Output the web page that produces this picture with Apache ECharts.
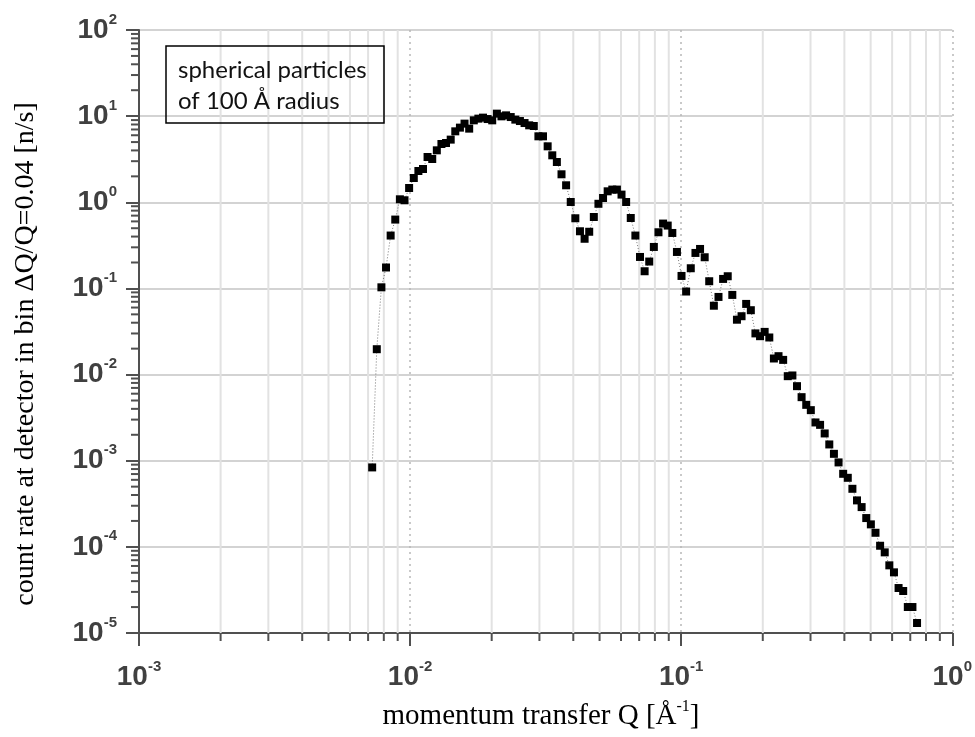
<!DOCTYPE html>
<html><head><meta charset="utf-8">
<script src="https://cdn.jsdelivr.net/npm/echarts@6.0.0/dist/echarts.min.js"></script>
<style>html,body{margin:0;padding:0;background:#fff}#c{width:975px;height:737px}</style>
</head><body><div id="c"></div>
<script>
// momentum transfer Q [1/Å]
const qValues = [
 0.007247, 0.007537, 0.007838, 0.008152, 0.008478, 0.008817, 0.009170, 0.009537, 0.009918, 0.01032,
 0.01073, 0.01116, 0.01160, 0.01207, 0.01255, 0.01305, 0.01357, 0.01412, 0.01468, 0.01527,
 0.01588, 0.01652, 0.01718, 0.01786, 0.01858, 0.01932, 0.02009, 0.02090, 0.02173, 0.02260,
 0.02351, 0.02445, 0.02542, 0.02644, 0.02750, 0.02860, 0.02974, 0.03093, 0.03217, 0.03346,
 0.03479, 0.03619, 0.03763, 0.03914, 0.04070, 0.04233, 0.04403, 0.04579, 0.04762, 0.04952,
 0.05150, 0.05356, 0.05571, 0.05794, 0.06025, 0.06266, 0.06517, 0.06778, 0.07049, 0.07331,
 0.07624, 0.07929, 0.08246, 0.08576, 0.08919, 0.09276, 0.09647, 0.1003, 0.1043, 0.1085,
 0.1129, 0.1174, 0.1221, 0.1269, 0.1320, 0.1373, 0.1428, 0.1485, 0.1544, 0.1606,
 0.1670, 0.1737, 0.1807, 0.1879, 0.1954, 0.2032, 0.2114, 0.2198, 0.2286, 0.2378,
 0.2473, 0.2572, 0.2675, 0.2781, 0.2893, 0.3008, 0.3129, 0.3254, 0.3384, 0.3519,
 0.3660, 0.3807, 0.3959, 0.4117, 0.4282, 0.4453, 0.4631, 0.4817, 0.5009, 0.5210,
 0.5418, 0.5635, 0.5860, 0.6095, 0.6338, 0.6592, 0.6856, 0.7130, 0.7415
];
// count rate [n/s]
const countRates = [
 0.000836, 0.0197, 0.103, 0.175, 0.411, 0.630, 1.083, 1.055, 1.465, 1.913,
 2.307, 2.434, 3.354, 3.179, 4.011, 4.747, 4.875, 5.338, 6.664, 7.356,
 8.185, 7.161, 8.939, 9.354, 9.608, 9.255, 8.939, 10.69, 9.947, 10.21,
 9.763, 9.108, 8.775, 8.318, 7.823, 7.679, 5.832, 5.832, 4.463, 3.510,
 2.935, 2.113, 1.575, 1.008, 0.6523, 0.4609, 0.3772, 0.4548, 0.6752, 0.9607,
 1.122, 1.341, 1.404, 1.404, 1.228, 1.008, 0.6575, 0.4109, 0.2319, 0.1583,
 0.2051, 0.3030, 0.4487, 0.5661, 0.5366, 0.4404, 0.2651, 0.1396, 0.09205, 0.1715,
 0.2582, 0.2872, 0.2301, 0.1212, 0.06299, 0.07966, 0.1289, 0.1385, 0.08407, 0.04334,
 0.04758, 0.06610, 0.05587, 0.03006, 0.02790, 0.03129, 0.02695, 0.01537, 0.01635, 0.01481,
 0.009581, 0.009763, 0.007335, 0.005467, 0.004452, 0.003864, 0.002781, 0.002608, 0.002073, 0.001545,
 0.001202, 0.0009556, 0.0007047, 0.0006332, 0.0004721, 0.0003462, 0.0002895, 0.0002159, 0.0001824, 0.0001457,
 0.0001030, 0.00008632, 0.00006101, 0.00005060, 0.00003327, 0.00003071, 0.00002002, 0.00002002, 0.00001306
];
const xMajorTicks = [0.001, 0.01, 0.1, 1];
const xTickExponents = ['-3', '-2', '-1', '0'];
const yMajorTicks = [1e-5, 1e-4, 1e-3, 1e-2, 1e-1, 1, 10, 100];
const yTickExponents = ['-5', '-4', '-3', '-2', '-1', '0', '1', '2'];
const xMinorTicks = [
 0.002, 0.003, 0.004, 0.005, 0.006, 0.007, 0.008, 0.009,
 0.02, 0.03, 0.04, 0.05, 0.06, 0.07, 0.08, 0.09,
 0.2, 0.3, 0.4, 0.5, 0.6, 0.7, 0.8, 0.9
];
const yMinorTicks = [
 2e-5, 3e-5, 4e-5, 5e-5, 6e-5, 7e-5, 8e-5, 9e-5,
 2e-4, 3e-4, 4e-4, 5e-4, 6e-4, 7e-4, 8e-4, 9e-4,
 0.002, 0.003, 0.004, 0.005, 0.006, 0.007, 0.008, 0.009,
 0.02, 0.03, 0.04, 0.05, 0.06, 0.07, 0.08, 0.09,
 0.2, 0.3, 0.4, 0.5, 0.6, 0.7, 0.8, 0.9,
 2, 3, 4, 5, 6, 7, 8, 9,
 20, 30, 40, 50, 60, 70, 80, 90
];
const legendText = ['spherical particles', 'of 100 Å radius'];
const xTitle = ['momentum transfer Q [Å', '-1', ']'];
const yTitle = 'count rate at detector in bin ΔQ/Q=0.04 [n/s]';

function expFor(ticks, exps, v) {
  let best = 0, bd = Infinity;
  ticks.forEach((t, i) => { const d = Math.abs(Math.log10(v) - Math.log10(t)); if (d < bd) { bd = d; best = i; } });
  return exps[best];
}
const axisColor = '#505050';
const labelRich = {
  b: { fontFamily: 'Liberation Sans', fontWeight: 'bold', fontSize: 28, color: '#404040', lineHeight: 36 },
  s: { fontFamily: 'Liberation Sans', fontWeight: 'bold', fontSize: 15, color: '#404040', lineHeight: 16, verticalAlign: 'top' }
};

const chart = echarts.init(document.getElementById('c'), null, { renderer: 'canvas' });
chart.setOption({
  animation: false,
  backgroundColor: '#fff',
  grid: { left: 139, right: 21, top: 30, bottom: 104, containLabel: false },
  xAxis: {
    type: 'log', logBase: 10, min: 0.001, max: 1, splitNumber: 3,
    axisLine: { show: true, onZero: false, lineStyle: { color: axisColor, width: 2 } },
    axisTick: { show: true, inside: false, length: 13, lineStyle: { color: axisColor, width: 2 } },
    axisLabel: {
      margin: 26, rich: labelRich,
      formatter: v => '{b|10}{s|' + expFor(xMajorTicks, xTickExponents, v) + '}'
    },
    splitLine: { show: true, lineStyle: { color: '#b8b8b8', width: 1.5, type: [2, 4] } },
    minorTick: { show: false }
  },
  yAxis: {
    type: 'log', logBase: 10, min: 1e-5, max: 100, splitNumber: 7,
    axisLine: { show: true, onZero: false, lineStyle: { color: axisColor, width: 2 } },
    axisTick: { show: true, inside: false, length: 13, lineStyle: { color: axisColor, width: 2 } },
    axisLabel: {
      margin: 22, rich: labelRich,
      formatter: v => '{b|10}{s|' + expFor(yMajorTicks, yTickExponents, v) + '}'
    },
    splitLine: { show: true, lineStyle: { color: '#c4c4c4', width: 1.5 } },
    minorTick: { show: false }
  },
  graphic: [
    { type: 'rect', z: 10, shape: { x: 166, y: 46, width: 218, height: 77 },
      style: { fill: 'rgba(255,255,255,0)', stroke: '#000', lineWidth: 1.5 } },
    { type: 'text', z: 11, x: 178, y: 55,
      style: { text: legendText.join('\n'), font: '24px Lato', lineHeight: 31, fill: '#111', align: 'left', verticalAlign: 'top' } },
    { type: 'text', z: 11, x: 26, y: 354, rotation: Math.PI / 2,
      style: { text: yTitle, font: '28px "Liberation Serif"', fill: '#000', align: 'center', verticalAlign: 'middle' } },
    { type: 'text', z: 11, x: 541, y: 716,
      style: { text: '{t|' + xTitle[0] + '}{s|' + xTitle[1] + '}{t|' + xTitle[2] + '}', align: 'center', verticalAlign: 'middle',
        rich: {
          t: { fontFamily: 'Liberation Serif', fontSize: 29, fill: '#000', lineHeight: 34 },
          s: { fontFamily: 'Liberation Serif', fontSize: 16, fill: '#000', lineHeight: 15, verticalAlign: 'top' }
        } } }
  ],
  series: [
    {
      type: 'custom', coordinateSystem: 'cartesian2d', silent: true, clip: false, z: 1,
      data: xMinorTicks.map(v => [v, 1]),
      renderItem(params, api) {
        const cs = params.coordSys;
        const x = api.coord([api.value(0), 1])[0];
        const bottom = cs.y + cs.height;
        return { type: 'group', children: [
          { type: 'line', shape: { x1: x, y1: cs.y, x2: x, y2: bottom }, style: { stroke: '#e2e2e2', lineWidth: 2 } },
          { type: 'line', shape: { x1: x, y1: bottom, x2: x, y2: bottom + 8 }, style: { stroke: axisColor, lineWidth: 2 } }
        ] };
      }
    },
    {
      type: 'custom', coordinateSystem: 'cartesian2d', silent: true, clip: false, z: 1,
      data: yMinorTicks.map(v => [0.001, v]),
      renderItem(params, api) {
        const cs = params.coordSys;
        const y = api.coord([0.001, api.value(1)])[1];
        return { type: 'line', shape: { x1: cs.x - 8, y1: y, x2: cs.x, y2: y }, style: { stroke: axisColor, lineWidth: 2 } };
      }
    },
    {
      type: 'line', z: 5,
      data: qValues.map((q, i) => [q, countRates[i]]),
      symbol: 'rect', symbolSize: 8, showAllSymbol: true,
      itemStyle: { color: '#000' },
      lineStyle: { color: '#777', width: 1, type: [1, 2] }
    }
  ]
});
</script>
</body></html>
